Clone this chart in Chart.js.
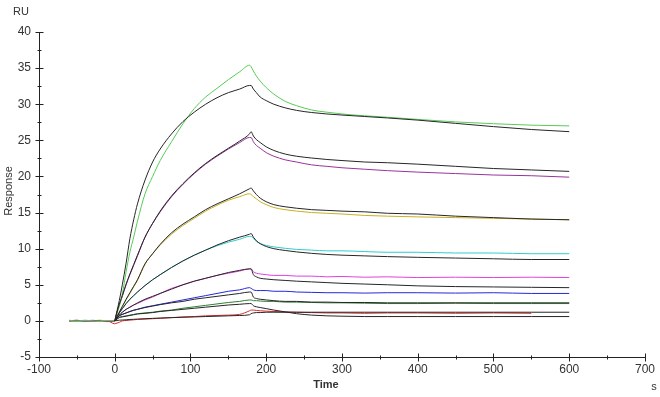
<!DOCTYPE html>
<html><head><meta charset="utf-8">
<script src="https://cdn.jsdelivr.net/npm/chart.js@4/dist/chart.umd.min.js"></script>
<style>html,body{margin:0;padding:0;background:#fff}canvas{display:block}</style>
</head><body>
<canvas id="c" width="660" height="397"></canvas>
<script>
// ---- data (time in s, response in RU) ----
const TIME = [-60,-50,-40,-30,-20,-10,0, 3,6,10,15,20,25,30, 40,50,60,75,90, 105,120,135,150,165,178, 180,183,187,192,200,210, 225,240,260,280,300, 330,360,400,450,500,550,600];

const GREEN   = [0.1,-0.05,0.1,0,-0.1,0.05,0, 1.0,2.0,3.7,6.8,9.5,11.6,13.8, 17.6,20.0,22.2,24.8,27.3, 29.4,31.0,32.2,33.4,34.5,35.4, 35.2,34.6,33.9,33.2,32.3,31.4, 30.4,29.8,29.2,28.9,28.65, 28.4,28.2,27.9,27.55,27.3,27.1,27.0];
const FIT1    = [null,null,null,null,null,null,0, 1.4,2.8,5.0,8.0,11.4,14.0,16.2, 19.5,22.0,23.8,25.9,27.6, 28.9,30.0,30.9,31.6,32.1,32.6, 32.6,32.1,31.6,31.0,30.5,30.0, 29.5,29.15,28.85,28.65,28.5, 28.3,28.1,27.8,27.35,26.9,26.5,26.2];
const PURPLE  = [0,0.1,-0.05,0.05,0,-0.1,0, 1.2,2.2,3.4,5.0,6.4,7.7,9.0, 11.6,13.5,15.1,17.2,18.9, 20.4,21.7,22.8,23.8,24.7,25.4, 25.4,24.8,24.3,23.9,23.3,22.8, 22.3,22.0,21.6,21.4,21.2, 21.0,20.8,20.6,20.4,20.2,20.1,19.9];
const FIT2    = [null,null,null,null,null,null,0, 1.2,2.3,3.5,5.1,6.5,7.8,9.1, 11.6,13.5,15.2,17.3,19.0, 20.5,21.8,22.9,23.9,24.9,25.9, 26.2,25.6,25.1,24.7,24.1,23.6, 23.1,22.8,22.55,22.35,22.2, 22.0,21.9,21.7,21.4,21.1,20.9,20.7];
const YELLOW  = [0,-0.05,0.05,0,0.1,0,0, 0.6,1.2,2.0,2.9,3.8,4.7,5.6, 7.9,9.3,10.5,12.0,13.2, 14.2,15.2,16.0,16.7,17.2,17.6, 17.5,17.2,16.9,16.5,16.1,15.7, 15.4,15.2,15.0,14.9,14.8, 14.6,14.5,14.4,14.3,14.2,14.1,14.0];
const FIT3    = [null,null,null,null,null,null,0, 0.6,1.2,2.0,3.0,3.9,4.8,5.7, 7.9,9.3,10.6,12.2,13.4, 14.4,15.4,16.2,16.9,17.6,18.3, 18.4,18.0,17.5,17.0,16.5,16.1, 15.8,15.6,15.4,15.3,15.2, 15.1,14.9,14.8,14.5,14.3,14.1,14.0];
const CYAN    = [0.05,0,-0.05,0.1,0,0.05,0, 0.6,1.1,1.7,2.4,3.0,3.5,4.0, 4.9,5.7,6.4,7.4,8.3, 9.1,9.8,10.4,10.9,11.3,11.7, 11.7,11.4,11.0,10.7,10.45,10.25, 10.05,9.9,9.8,9.7,9.7, 9.6,9.5,9.5,9.4,9.4,9.3,9.3];
const FIT4    = [null,null,null,null,null,null,0, 0.6,1.1,1.7,2.4,3.0,3.5,4.0, 4.9,5.7,6.4,7.4,8.3, 9.1,9.8,10.5,11.1,11.6,12.0, 12.1,11.6,11.1,10.7,10.3,10.0, 9.75,9.55,9.35,9.2,9.1, 9.0,8.9,8.8,8.7,8.6,8.5,8.5];
const PINK    = [0,0.05,-0.05,0,0.05,-0.05,0, 0.4,0.8,1.2,1.6,1.9,2.2,2.4, 2.9,3.3,3.8,4.5,5.0, 5.5,5.9,6.3,6.6,6.9,7.2, 7.2,6.8,6.6,6.5,6.4,6.3, 6.3,6.2,6.2,6.1,6.15, 6.05,6.1,6.0,6.05,6.0,6.05,6.0];
const FIT5    = [null,null,null,null,null,null,0, 0.4,0.8,1.2,1.6,1.9,2.2,2.5, 3.0,3.4,3.8,4.4,5.0, 5.5,5.9,6.3,6.7,7.0,7.2, 7.2,6.4,6.1,5.9,5.8,5.7, 5.6,5.5,5.4,5.3,5.2, 5.1,5.0,4.85,4.75,4.7,4.65,4.6];
const BLUE    = [0,-0.05,0.05,0,0,0.05,0, 0.4,0.7,0.9,1.1,1.3,1.5,1.6, 1.9,2.1,2.3,2.6,2.9, 3.2,3.5,3.8,4.1,4.3,4.6, 4.5,4.3,4.2,4.2,4.2,4.1, 4.1,4.0,3.95,3.9,3.9, 3.85,3.9,3.9,3.85,3.9,3.8,3.8];
const FIT6    = [null,null,null,null,null,null,0, 0.4,0.7,0.9,1.1,1.3,1.45,1.6, 1.85,2.05,2.25,2.5,2.7, 3.0,3.2,3.4,3.6,3.8,4.0, 4.0,3.3,3.1,3.0,2.9,2.8, 2.7,2.7,2.6,2.6,2.55, 2.55,2.5,2.5,2.5,2.5,2.5,2.5];
const DKGREEN = [0,0.05,0,-0.05,0.05,0,0, 0.3,0.5,0.6,0.7,0.8,0.9,1.0, 1.1,1.2,1.35,1.5,1.75, 1.95,2.15,2.35,2.55,2.7,2.9, 2.9,2.8,2.8,2.75,2.7,2.7, 2.6,2.6,2.55,2.5,2.5, 2.45,2.4,2.4,2.45,2.4,2.4,2.4];
const FIT7    = [null,null,null,null,null,null,0, 0.25,0.45,0.55,0.65,0.75,0.85,0.95, 1.05,1.15,1.3,1.45,1.6, 1.75,1.9,2.05,2.2,2.3,2.4, 2.4,2.1,1.95,1.85,1.7,1.5, 1.25,1.0,0.8,0.7,0.65, 0.6,0.6,0.6,0.6,0.6,0.6,0.6];
const RED     = [0,0,0.05,-0.05,0,0,-0.4, -0.3,-0.2,0,0.05,0.1,0.15,0.2, 0.25,0.3,0.35,0.45,0.55, 0.6,0.7,0.75,0.8,0.9,1.4, 1.5,1.5,1.45,1.4,1.35,1.3, 1.25,1.2,1.15,1.1,1.1, 1.05,1.1,1.1,1.05,1.1,1.05,null];
const FIT8    = [null,null,null,null,null,null,0, 0.05,0.1,0.12,0.15,0.2,0.22,0.25, 0.3,0.35,0.4,0.45,0.5, 0.55,0.6,0.65,0.7,0.75,0.85, 1.0,1.1,1.15,1.15,1.2,1.2, 1.2,1.2,1.2,1.2,1.2, 1.2,1.2,1.2,1.2,1.2,1.2,1.2];

const MEASURED = [GREEN, PURPLE, YELLOW, CYAN, PINK, BLUE, DKGREEN, RED];
const FITS     = [FIT1, FIT2, FIT3, FIT4, FIT5, FIT6, FIT7, FIT8];
const MEASURED_COLORS = ['#55cc55','#993399','#c8b020','#33cccc','#e040e0','#2626dd','#2f7f2f','#e02828'];
const FIT_COLOR = '#262626';

const X_MIN = -100, X_MAX = 700, X_STEP = 100;
const Y_MIN = -5, Y_MAX = 40, Y_STEP = 5;

function toPoints(vals){ return TIME.map((t,i)=>({x:t,y:vals[i]})).filter(p=>p.y!==null); }

const datasets = [];
FITS.forEach((vals)=>datasets.push({data:toPoints(vals),borderColor:FIT_COLOR,borderWidth:1,pointRadius:0,cubicInterpolationMode:'monotone',order:0}));
MEASURED.forEach((vals,i)=>datasets.push({data:toPoints(vals),borderColor:MEASURED_COLORS[i],borderWidth:1,pointRadius:0,cubicInterpolationMode:'monotone',order:1}));

const FONT = 'Liberation Sans, Arial, sans-serif';

const axisDecor = {
  id:'axisDecor',
  afterDraw(chart){
    const {ctx, scales:{x,y}} = chart;
    ctx.save();
    ctx.strokeStyle = '#222'; ctx.lineWidth = 1;
    const ax = Math.round(x.left)+0.5, ay = Math.round(y.bottom)+0.5;
    ctx.beginPath();
    ctx.moveTo(ax, y.top); ctx.lineTo(ax, ay);
    ctx.moveTo(ax, ay); ctx.lineTo(x.right, ay);
    for (let v=Y_MIN; v<=Y_MAX+1e-9; v+=Y_STEP/2){
      const p = Math.round(y.getPixelForValue(v))+0.5;
      const L = (Math.abs(v % Y_STEP) < 1e-9) ? 4 : 2;
      ctx.moveTo(ax-L,p); ctx.lineTo(ax+L,p);
    }
    for (let v=X_MIN; v<=X_MAX+1e-9; v+=X_STEP/2){
      const p = Math.round(x.getPixelForValue(v))+0.5;
      const L = (Math.abs(v % X_STEP) < 1e-9) ? 4 : 2;
      ctx.moveTo(p,ay-L); ctx.lineTo(p,ay+L);
    }
    ctx.stroke();
    ctx.fillStyle = '#333';
    ctx.font = '11px ' + FONT;
    ctx.textAlign = 'center'; ctx.textBaseline = 'middle';
    ctx.fillText('RU', 21, 12);
    ctx.fillText('s', 654, 387);
    ctx.font = 'bold 11px ' + FONT;
    ctx.fillText('Time', 326, 385);
    ctx.save();
    ctx.translate(9, 191); ctx.rotate(-Math.PI/2);
    ctx.font = '11px ' + FONT;
    ctx.fillText('Response', 0, 0);
    ctx.restore();
    ctx.restore();
  }
};

new Chart(document.getElementById('c'), {
  type:'line',
  data:{datasets},
  plugins:[axisDecor],
  options:{
    responsive:false, devicePixelRatio:1, animation:false,
    layout:{padding:{left:0,right:13,top:32,bottom:0}},
    plugins:{legend:{display:false},tooltip:{enabled:false}},
    elements:{line:{tension:0}},
    scales:{
      x:{type:'linear',min:X_MIN,max:X_MAX,
         grid:{display:false,drawTicks:false},border:{display:false},
         ticks:{stepSize:X_STEP,autoSkip:false,maxRotation:0,padding:5,color:'#333',font:{family:FONT,size:12}},
         afterFit(s){s.height=40;}},
      y:{type:'linear',min:Y_MIN,max:Y_MAX,
         grid:{display:false,drawTicks:false},border:{display:false},
         ticks:{stepSize:Y_STEP,autoSkip:false,padding:8,color:'#333',font:{family:FONT,size:12}},
         afterFit(s){s.width=39;}}
    }
  }
});
</script>
</body></html>
